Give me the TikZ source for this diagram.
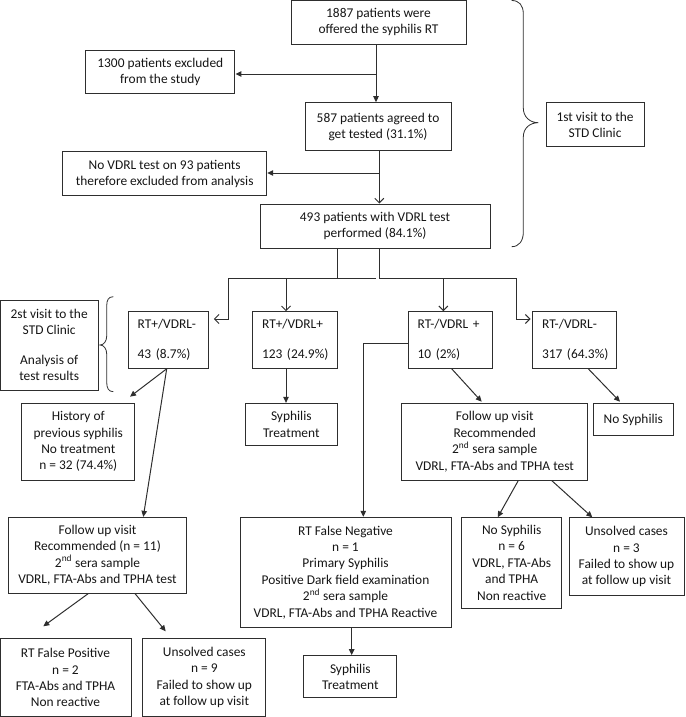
\documentclass[tikz,border=0pt]{standalone}
\usepackage{fontspec}
\setmainfont{Carlito}
\usetikzlibrary{arrows.meta}
\definecolor{linec}{HTML}{2E2E2E}
\definecolor{textc}{HTML}{151515}
\newcommand{\mainfs}{\fontsize{13.4}{16.4}\selectfont}
\newcommand{\ind}{\hspace*{7.4pt}}
\begin{document}
\begin{tikzpicture}[x=1pt,y=-1pt,
  box/.style={draw=linec, line width=1pt, inner sep=2pt, align=center, font=\mainfs, text=textc},
  rowbox/.style={box, align=left, inner xsep=2pt, minimum height=56.6pt},
  ln/.style={draw=linec, line width=1pt},
  fa/.style={ln, -{Triangle[length=6pt,width=5.5pt]}},
  oa/.style={ln, -{Straight Barb[length=4.5pt,width=9pt]}},
  brc/.style={ln, line width=0.8pt}]
\useasboundingbox (0,0) rectangle (685,717);

% ---- first part
\node[box, minimum width=175pt, minimum height=44.3pt] (n1887) at (378.5,22.2) {1887 patients were\\offered the syphilis RT};
\node[box, minimum width=149.3pt, minimum height=42.6pt] (n1300) at (160.3,72) {1300 patients excluded\\from the study};
\node[box, minimum width=146pt, minimum height=48.3pt] (n587) at (378,126.8) {587 patients agreed to\\get tested (31.1\%)};
\node[box, minimum width=204pt, minimum height=44.3pt] (nnov) at (164.7,173.8) {No VDRL test on 93 patients\\therefore excluded from analysis};
\node[box, minimum width=230pt, minimum height=44pt] (n493) at (375,226) {493 patients with VDRL test\\performed (84.1\%)};
\node[box, minimum width=98pt, minimum height=44pt] (first) at (595,124.7) {1st visit to the\\STD Clinic};

\draw[brc] (511.7,0.5) .. controls (519,0.5) and (523.3,5) .. (523.3,14)
  -- (523.3,108) .. controls (523.3,117) and (530,122.7) .. (538.3,122.7)
  .. controls (530,122.7) and (523.3,128) .. (523.3,137)
  -- (523.3,232) .. controls (523.3,241) and (519,246.7) .. (511.7,246.7);

\coordinate (t1) at (376,74);
\draw[ln] (n1887.south -| t1) -- (t1);
\draw[fa] (t1) -- (n587.north -| t1);
\draw[fa] (t1) -- (n1300.east |- t1);

\coordinate (t2) at (379.3,173);
\draw[ln] (n587.south -| t2) -- (t2);
\draw[oa] (t2) -- (n493.north -| t2);
\draw[fa] (t2) -- (nnov.east |- t2);

% ---- second row
\node[box, minimum width=98.3pt, minimum height=90pt] (second) at (49.2,345) {2st visit to the\\STD Clinic\\[13pt]Analysis of\\test results};
\draw[brc] (113.3,296.7) .. controls (108.5,296.7) and (106.7,300) .. (106.7,306)
  -- (106.7,336) .. controls (106.7,341) and (104,345) .. (100,345)
  .. controls (104,345) and (106.7,349) .. (106.7,354)
  -- (106.7,382) .. controls (106.7,388) and (108.5,391.7) .. (113.3,391.7);

\node[rowbox, minimum width=80pt, text width=76pt] (rpvm) at (168.3,340) {\ind RT+/VDRL-\\[13.6pt]\ind 43 (8.7\%)};
\node[rowbox, minimum width=84.6pt, text width=80.6pt] (rpvp) at (295,340) {\ind RT+/VDRL+\\[13.6pt]\ind 123 (24.9\%)};
\node[rowbox, minimum width=84pt, text width=80pt] (rmvp) at (450.3,340) {\ind RT-/VDRL +\\[13.6pt]\ind 10 (2\%)};
\node[rowbox, minimum width=84pt, text width=80pt] (rmvm) at (574.7,340) {\ind RT-/VDRL-\\[13.6pt]\ind 317 (64.3\%)};

\coordinate (bl) at (337.3,278.3);
\coordinate (hl1) at (228.3,278.3);
\coordinate (hl2) at (375.7,278.3);
\coordinate (ey) at (0,319);
\coordinate (v2) at (286,278.3);
\draw[ln] (n493.south -| bl) -- (bl);
\draw[ln] (hl2) -- (hl1);
\draw[oa, shorten >=5pt] (hl1) |- (rpvm.east |- ey);
\draw[oa] (v2) -- (rpvp.north -| v2);

\coordinate (br) at (379,278.3);
\coordinate (hr) at (516,278.3);
\coordinate (v3) at (443.3,278.3);
\draw[ln] (n493.south -| br) -- (br) -- (hr);
\draw[oa, shorten >=1.7pt] (hr) |- (rmvm.west |- ey);
\draw[oa] (v3) -- (rmvp.north -| v3);

% ---- third row
\node[box, minimum width=113.3pt, minimum height=76.7pt] (hist) at (78.3,441.7) {History of\\previous syphilis\\No treatment\\n = 32 (74.4\%)};
\node[box, minimum width=92pt, minimum height=41.7pt] (st1) at (291.3,424.2) {Syphilis\\Treatment};
\node[box, minimum width=186pt, minimum height=76.7pt] (folr) at (494.7,441.7) {Follow up visit\\Recommended\\2\textsuperscript{nd} sera sample\\VDRL, FTA-Abs and TPHA test};
\node[box, minimum width=80pt, minimum height=32.4pt] (nos1) at (633.3,419.5) {No Syphilis};

% ---- fourth row
\node[box, minimum width=178.4pt, minimum height=75.7pt] (folL) at (97.5,555.2) {Follow up visit\\Recommended (n = 11)\\2\textsuperscript{nd} sera sample\\VDRL, FTA-Abs and TPHA test};
\node[box, minimum width=211pt, minimum height=110pt] (rtfn) at (345.5,572.3) {RT False Negative\\n = 1\\Primary Syphilis\\Positive Dark field examination\\2\textsuperscript{nd} sera sample\\VDRL, FTA-Abs and TPHA Reactive};
\node[box, minimum width=100pt, minimum height=90.7pt] (nos6) at (511.7,562.7) {No Syphilis\\n = 6\\VDRL, FTA-Abs\\and TPHA\\Non reactive};
\node[box, minimum width=115pt, minimum height=77.7pt] (unsr) at (626.5,556.8) {Unsolved cases\\n = 3\\Failed to show up\\at follow up visit};

\coordinate (e1) at (130,396.7);
\coordinate (e2) at (143.3,0);
\coordinate (e3) at (481.7,401.7);
\coordinate (e4) at (620,401.7);
\coordinate (v4) at (363.3,343.3);
\draw[fa] ([xshift=-1.6pt]rpvm.south) -- (e1);
\draw[fa] ([xshift=-1.6pt]rpvm.south) -- (folL.north -| e2);
\draw[fa] (rpvp.south -| v2) -- (st1.north -| v2);
\draw[fa] ([xshift=1.4pt]rmvp.south) -- (e3);
\draw[fa] ([xshift=13.6pt]rmvm.south) -- (e4);
\draw[fa] (rmvp.west |- v4) -| (rtfn.north -| v4);

% ---- fifth row
\node[box, minimum width=131pt, minimum height=77.8pt] (rtfp) at (65.5,677.6) {RT False Positive\\n = 2\\FTA-Abs and TPHA\\Non reactive};
\node[box, minimum width=123.3pt, minimum height=77.8pt] (unsl) at (204.3,677.6) {Unsolved cases\\n = 9\\Failed to show up\\at follow up visit};
\node[box, minimum width=92.7pt, minimum height=42.3pt] (st2) at (350.3,676.8) {Syphilis\\Treatment};

\coordinate (f1) at (43.3,626.3);
\coordinate (f2) at (165.7,631.3);
\coordinate (g1) at (497.7,517.3);
\coordinate (g2) at (592.3,517.3);
\coordinate (v5) at (351.7,0);
\draw[fa] ([xshift=-9.2pt]folL.south) -- (f1);
\draw[fa] ([xshift=37.5pt]folL.south) -- (f2);
\draw[fa] (rtfn.south -| v5) -- (st2.north -| v5);
\draw[fa] ([xshift=23.6pt]folr.south) -- (g1);
\draw[fa] ([xshift=57pt]folr.south) -- (g2);
\end{tikzpicture}
\end{document}
